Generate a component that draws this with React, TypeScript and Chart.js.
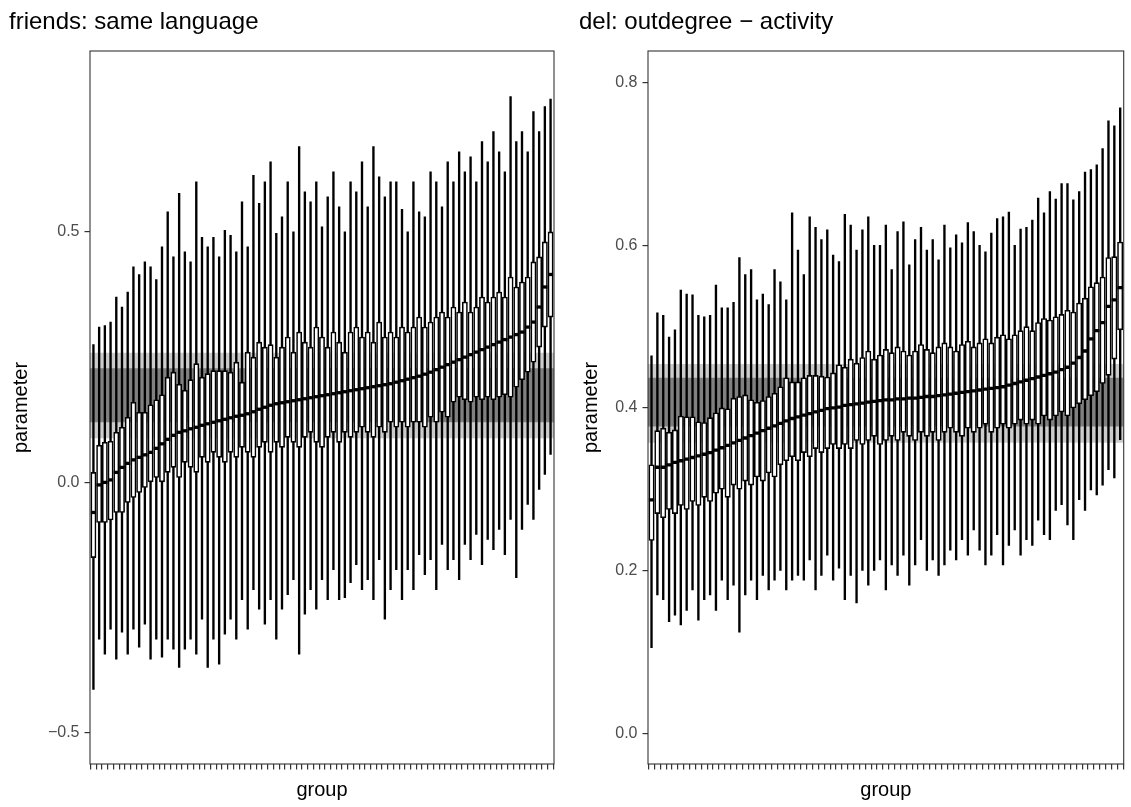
import React, { useEffect, useRef } from "react";
import { Chart, registerables } from "chart.js";

Chart.register(...registerables);

const FONT = "'Liberation Sans', Arial, Helvetica, sans-serif";

// ---------- Panel 1: friends: same language ----------
const P1_TITLE = "friends: same language";
const P1_LOW = [
  -0.413, -0.313, -0.343, -0.293, -0.353, -0.299, -0.343, -0.293, -0.329, -0.283,
  -0.353, -0.313, -0.349, -0.313, -0.333, -0.369, -0.333, -0.313, -0.343, -0.273,
  -0.369, -0.313, -0.363, -0.303, -0.273, -0.313, -0.234, -0.293, -0.214, -0.253,
  -0.283, -0.234, -0.313, -0.253, -0.224, -0.194, -0.343, -0.263, -0.214, -0.253,
  -0.194, -0.234, -0.174, -0.234, -0.23, -0.2, -0.164, -0.214, -0.194, -0.234,
  -0.154, -0.273, -0.214, -0.174, -0.234, -0.174, -0.214, -0.144, -0.184, -0.154,
  -0.214, -0.124, -0.174, -0.154, -0.194, -0.124, -0.154, -0.104, -0.164, -0.114,
  -0.134, -0.094, -0.144, -0.074, -0.19, -0.094, -0.044, -0.074, -0.014, 0.016,
  0.056,
];
const P1_Q1 = [
  -0.15, -0.08, -0.08, -0.075, -0.06, -0.06, -0.04, -0.03, -0.02, -0.01,
  0.0, 0.01, 0.0, 0.02, 0.03, 0.01, 0.04, 0.03, 0.02, 0.05,
  0.04, 0.06, 0.05, 0.04, 0.06, 0.05, 0.07, 0.06, 0.05, 0.07,
  0.08, 0.06, 0.08, 0.07, 0.09, 0.08, 0.07, 0.09, 0.1, 0.08,
  0.07, 0.09, 0.1, 0.08, 0.1, 0.09, 0.1, 0.11, 0.1, 0.09,
  0.11, 0.1, 0.12, 0.11, 0.12, 0.11, 0.12, 0.12, 0.11, 0.13,
  0.12, 0.14, 0.13, 0.16, 0.17, 0.165, 0.16, 0.17, 0.165, 0.17,
  0.165, 0.17, 0.175, 0.17, 0.19, 0.205, 0.22, 0.24, 0.27, 0.31,
  0.33,
];
const P1_MED = [
  -0.06, -0.005, 0.0, 0.005, 0.02, 0.03, 0.038, 0.045, 0.05, 0.055,
  0.06, 0.068, 0.077, 0.086, 0.094, 0.1, 0.103, 0.107, 0.11, 0.114,
  0.117, 0.12, 0.123, 0.126, 0.129, 0.132, 0.134, 0.137, 0.141, 0.146,
  0.15, 0.154, 0.157, 0.159, 0.161, 0.163, 0.165, 0.167, 0.169, 0.171,
  0.173, 0.175, 0.177, 0.179, 0.181, 0.183, 0.185, 0.187, 0.189, 0.191,
  0.193, 0.195, 0.197, 0.2, 0.203, 0.206, 0.209, 0.212, 0.216, 0.22,
  0.225, 0.23, 0.235, 0.24, 0.245, 0.25, 0.255, 0.26, 0.265, 0.27,
  0.275, 0.28, 0.285, 0.29, 0.295, 0.3, 0.31, 0.32, 0.35, 0.39,
  0.415,
];
const P1_Q3 = [
  0.02, 0.074, 0.08, 0.082, 0.1, 0.11, 0.13, 0.16, 0.14, 0.14,
  0.155, 0.165, 0.175, 0.21, 0.22, 0.196, 0.184, 0.205, 0.237, 0.21,
  0.217, 0.223, 0.223, 0.223, 0.22, 0.24, 0.2, 0.26, 0.25, 0.28,
  0.27, 0.275, 0.25, 0.27, 0.29, 0.26, 0.3, 0.28, 0.27, 0.31,
  0.29, 0.27, 0.3, 0.28, 0.26, 0.3, 0.31, 0.29, 0.3, 0.28,
  0.32, 0.29, 0.3, 0.29, 0.31, 0.3, 0.31, 0.33, 0.31, 0.32,
  0.33, 0.34, 0.33, 0.35, 0.34, 0.36, 0.34, 0.35, 0.37, 0.36,
  0.37, 0.38, 0.37, 0.41, 0.39, 0.4, 0.41, 0.44, 0.45, 0.48,
  0.5,
];
const P1_HIGH = [
  0.275, 0.31, 0.313, 0.32, 0.37, 0.35, 0.38, 0.43, 0.415, 0.44,
  0.43, 0.405, 0.47, 0.54, 0.45, 0.577, 0.46, 0.44, 0.6, 0.489,
  0.47, 0.489, 0.45, 0.503, 0.493, 0.46, 0.56, 0.47, 0.613, 0.557,
  0.6, 0.64, 0.497, 0.53, 0.6, 0.5, 0.67, 0.58, 0.56, 0.6,
  0.51, 0.57, 0.62, 0.55, 0.5, 0.6, 0.58, 0.64, 0.55, 0.67,
  0.61, 0.57, 0.6, 0.6, 0.545, 0.5, 0.6, 0.54, 0.53, 0.62,
  0.6, 0.55, 0.64, 0.6, 0.66, 0.62, 0.65, 0.6, 0.68, 0.64,
  0.7, 0.66, 0.62, 0.77, 0.68, 0.7, 0.66, 0.74, 0.7, 0.75,
  0.765,
];
const P1_BAND_OUTER = [0.088, 0.259];
const P1_BAND_INNER = [0.12, 0.228];
const P1_Y_RANGE = [-0.562, 0.861];
const P1_Y_TICKS = [-0.5, 0.0, 0.5];
const P1_Y_TICK_LABELS = ["\u22120.5", "0.0", "0.5"];

// ---------- Panel 2: del: outdegree - activity ----------
const P2_TITLE = "del: outdegree \u2212 activity";
const P2_LOW = [
  0.105, 0.17, 0.164, 0.137, 0.145, 0.133, 0.151, 0.176, 0.139, 0.164,
  0.17, 0.151, 0.188, 0.164, 0.182, 0.124, 0.17, 0.188, 0.164, 0.194,
  0.176, 0.188, 0.2, 0.176, 0.188, 0.194, 0.188, 0.213, 0.176, 0.194,
  0.219, 0.188, 0.203, 0.164, 0.194, 0.16, 0.2, 0.182, 0.2, 0.213,
  0.176, 0.207, 0.194, 0.219, 0.182, 0.207, 0.238, 0.2, 0.213, 0.194,
  0.207, 0.225, 0.213, 0.238, 0.219, 0.25, 0.225, 0.207, 0.219, 0.244,
  0.207, 0.231, 0.25, 0.219, 0.238, 0.231, 0.262, 0.244, 0.238, 0.274,
  0.281, 0.256, 0.238, 0.287, 0.274, 0.299, 0.293, 0.305, 0.324, 0.314,
  0.361,
];
const P2_Q1 = [
  0.237, 0.27, 0.265, 0.275, 0.27, 0.28, 0.275, 0.285, 0.28, 0.29,
  0.285, 0.295, 0.3, 0.29, 0.305, 0.3, 0.31, 0.305, 0.315, 0.31,
  0.32, 0.315, 0.33, 0.335, 0.34, 0.335, 0.345, 0.34, 0.35, 0.345,
  0.35, 0.355, 0.35, 0.355, 0.35, 0.36, 0.355, 0.36, 0.365, 0.355,
  0.36, 0.365, 0.36, 0.37, 0.365, 0.36, 0.37, 0.365, 0.37, 0.36,
  0.37, 0.375, 0.37, 0.365, 0.375, 0.37, 0.375, 0.38, 0.37, 0.375,
  0.38, 0.375, 0.38, 0.385, 0.38, 0.385, 0.38, 0.39, 0.385, 0.39,
  0.395, 0.39, 0.4, 0.405, 0.41, 0.415, 0.42, 0.43, 0.44, 0.46,
  0.496,
];
const P2_MED = [
  0.287, 0.327, 0.327, 0.33, 0.333, 0.335, 0.337, 0.339, 0.341, 0.343,
  0.345, 0.348, 0.351, 0.354, 0.357, 0.36, 0.363, 0.366, 0.369, 0.372,
  0.375, 0.378, 0.381, 0.384, 0.387, 0.389, 0.391, 0.393, 0.395, 0.397,
  0.399, 0.4, 0.401, 0.403, 0.404, 0.405, 0.406, 0.407, 0.408, 0.409,
  0.41, 0.41, 0.411, 0.411, 0.412, 0.412, 0.413, 0.414, 0.414, 0.415,
  0.416, 0.417, 0.418, 0.419, 0.42, 0.421, 0.422, 0.423, 0.424, 0.425,
  0.426, 0.428, 0.43, 0.432, 0.434, 0.436, 0.438, 0.44, 0.442, 0.444,
  0.447, 0.45, 0.455, 0.462, 0.47, 0.485, 0.495, 0.505, 0.525, 0.533,
  0.548,
];
const P2_Q3 = [
  0.33, 0.372, 0.375, 0.37, 0.373, 0.39, 0.389, 0.389, 0.383, 0.382,
  0.388, 0.394, 0.4, 0.399, 0.412, 0.414, 0.416, 0.41, 0.407, 0.409,
  0.414, 0.418, 0.426, 0.437, 0.432, 0.432, 0.437, 0.44, 0.44, 0.439,
  0.438, 0.443, 0.453, 0.45, 0.46, 0.455, 0.462, 0.47, 0.46, 0.465,
  0.472, 0.468, 0.475, 0.47, 0.465, 0.47, 0.478, 0.472, 0.468, 0.475,
  0.48, 0.475, 0.47, 0.478, 0.482, 0.475, 0.48, 0.485, 0.48, 0.487,
  0.49, 0.485, 0.49, 0.495, 0.5, 0.495, 0.505, 0.51, 0.508, 0.512,
  0.515, 0.52, 0.518, 0.529, 0.535, 0.549, 0.554, 0.561, 0.585, 0.586,
  0.604,
];
const P2_HIGH = [
  0.464, 0.517, 0.514, 0.487, 0.496, 0.545, 0.54, 0.539, 0.514, 0.512,
  0.514, 0.551, 0.523, 0.523, 0.53, 0.585, 0.564, 0.57, 0.533, 0.54,
  0.527, 0.57, 0.555, 0.533, 0.64, 0.594, 0.564, 0.635, 0.622, 0.607,
  0.619, 0.588, 0.58, 0.638, 0.625, 0.594, 0.619, 0.635, 0.6, 0.6,
  0.625, 0.57, 0.617, 0.629, 0.576, 0.607, 0.622, 0.594, 0.607, 0.582,
  0.625, 0.597, 0.613, 0.603, 0.628, 0.617, 0.6, 0.592, 0.615, 0.633,
  0.635, 0.641, 0.6, 0.62, 0.622, 0.631, 0.658, 0.64, 0.666, 0.657,
  0.676, 0.676, 0.656, 0.666, 0.69, 0.693, 0.699, 0.719, 0.753, 0.747,
  0.769,
];
const P2_BAND_OUTER = [0.357, 0.454];
const P2_BAND_INNER = [0.377, 0.437];
const P2_Y_RANGE = [-0.038, 0.839];
const P2_Y_TICKS = [0.0, 0.2, 0.4, 0.6, 0.8];
const P2_Y_TICK_LABELS = ["0.0", "0.2", "0.4", "0.6", "0.8"];

const X_TITLE = "group";
const Y_TITLE = "parameter";

type Spec = {
  title: string;
  low: number[];
  q1: number[];
  med: number[];
  q3: number[];
  high: number[];
  bandOuter: number[];
  bandInner: number[];
  yRange: number[];
  yTicks: number[];
  yTickLabels: string[];
  canvasWidth: number;
  leftPad: number;
  yAxisWidth: number;
  rightPad: number;
  boxWidth: number;
};

const SPECS: Spec[] = [
  {
    title: P1_TITLE, low: P1_LOW, q1: P1_Q1, med: P1_MED, q3: P1_Q3, high: P1_HIGH,
    bandOuter: P1_BAND_OUTER, bandInner: P1_BAND_INNER, yRange: P1_Y_RANGE,
    yTicks: P1_Y_TICKS, yTickLabels: P1_Y_TICK_LABELS,
    canvasWidth: 565, leftPad: 9, yAxisWidth: 81, rightPad: 11, boxWidth: 5.2,
  },
  {
    title: P2_TITLE, low: P2_LOW, q1: P2_Q1, med: P2_MED, q3: P2_Q3, high: P2_HIGH,
    bandOuter: P2_BAND_OUTER, bandInner: P2_BAND_INNER, yRange: P2_Y_RANGE,
    yTicks: P2_Y_TICKS, yTickLabels: P2_Y_TICK_LABELS,
    canvasWidth: 561, leftPad: 9, yAxisWidth: 69, rightPad: 6, boxWidth: 5.4,
  },
];

const panelBorder = {
  id: "panelBorder",
  afterDatasetsDraw(chart: any) {
    const { ctx, chartArea } = chart;
    ctx.save();
    ctx.strokeStyle = "#333333";
    ctx.lineWidth = 1.1;
    ctx.strokeRect(chartArea.left, chartArea.top, chartArea.right - chartArea.left, chartArea.bottom - chartArea.top);
    ctx.restore();
  },
};

function makeConfig(p: Spec): any {
  const n = p.med.length;
  const idx = p.med.map((_, i) => i);
  const xMin = -0.6;
  const xMax = n - 1 + 0.6;
  const band = (y: number, color: string, fill: any, order: number) => ({
    type: "line",
    data: [{ x: xMin, y }, { x: xMax, y }],
    borderWidth: 0,
    borderColor: "rgba(0,0,0,0)",
    pointRadius: 0,
    fill,
    backgroundColor: color,
    order,
  });
  const tickGrid = {
    display: true,
    drawOnChartArea: false,
    drawTicks: true,
    tickLength: 5.5,
    color: "#333333",
    lineWidth: 1.2,
  };
  return {
    type: "bar",
    data: {
      datasets: [
        band(p.bandOuter[1], "#cccccc", "+1", 10),
        band(p.bandOuter[0], "#cccccc", false, 10),
        band(p.bandInner[1], "#808080", "+1", 9),
        band(p.bandInner[0], "#808080", false, 9),
        {
          type: "bar",
          data: idx.map((i) => ({ x: i, y: [p.low[i], p.high[i]] })),
          backgroundColor: "#000000",
          borderWidth: 0,
          barThickness: 1.7,
          grouped: false,
          order: 3,
        },
        {
          type: "bar",
          data: idx.map((i) => ({ x: i, y: [p.q1[i], p.q3[i]] })),
          backgroundColor: "#ffffff",
          borderColor: "#000000",
          borderWidth: 1.6,
          borderSkipped: false,
          barThickness: p.boxWidth,
          grouped: false,
          order: 2,
        },
        {
          type: "line",
          data: idx.map((i) => ({ x: i, y: p.med[i] })),
          showLine: false,
          pointStyle: "line",
          pointRadius: p.boxWidth / 2,
          pointBorderWidth: 3.3,
          pointBorderColor: "#000000",
          pointBackgroundColor: "#000000",
          order: 1,
        },
      ],
    },
    options: {
      responsive: false,
      animation: false,
      events: [],
      layout: { padding: { left: p.leftPad, right: p.rightPad, top: 0, bottom: 0 } },
      plugins: {
        legend: { display: false },
        tooltip: { enabled: false },
        title: {
          display: true,
          text: p.title,
          align: "start",
          color: "#000000",
          font: { family: FONT, size: 24, weight: "normal" },
          padding: { top: 7.6, bottom: 14.6 },
        },
      },
      scales: {
        x: {
          type: "linear",
          min: xMin,
          max: xMax,
          offset: false,
          afterBuildTicks: (scale: any) => {
            scale.ticks = idx.map((v) => ({ value: v }));
          },
          afterFit: (scale: any) => {
            scale.height = 43;
          },
          ticks: { callback: () => "", autoSkip: false, maxRotation: 0, padding: 0 },
          grid: tickGrid,
          border: { display: false },
          title: {
            display: true,
            text: X_TITLE,
            color: "#000000",
            font: { family: FONT, size: 20 },
            padding: { top: 0, bottom: 5 },
          },
        },
        y: {
          type: "linear",
          min: p.yRange[0],
          max: p.yRange[1],
          afterBuildTicks: (scale: any) => {
            scale.ticks = p.yTicks.map((v) => ({ value: v }));
          },
          afterFit: (scale: any) => {
            scale.width = p.yAxisWidth;
          },
          ticks: {
            callback: (_v: any, i: number) => p.yTickLabels[i],
            color: "#4d4d4d",
            font: { family: FONT, size: 16 },
            padding: 5,
            autoSkip: false,
          },
          grid: tickGrid,
          border: { display: false },
          title: {
            display: true,
            text: Y_TITLE,
            color: "#000000",
            font: { family: FONT, size: 20 },
            padding: { top: 0, bottom: 0 },
          },
        },
      },
    },
    plugins: [panelBorder],
  };
}

function Panel({ spec, left }: { spec: Spec; left: number }) {
  const ref = useRef<HTMLCanvasElement>(null);
  useEffect(() => {
    const chart = new Chart(ref.current as HTMLCanvasElement, makeConfig(spec));
    return () => chart.destroy();
  }, [spec]);
  return (
    <div style={{ position: "absolute", left, top: 0, width: spec.canvasWidth, height: 807 }}>
      <canvas
        ref={ref}
        width={spec.canvasWidth}
        height={807}
        style={{ display: "block", width: spec.canvasWidth, height: 807 }}
      />
    </div>
  );
}

export default function App() {
  return (
    <div
      style={{
        position: "fixed",
        left: 0,
        top: 0,
        width: 1131,
        height: 807,
        background: "#ffffff",
        overflow: "hidden",
        fontFamily: FONT,
      }}
    >
      <Panel spec={SPECS[0]} left={0} />
      <Panel spec={SPECS[1]} left={570} />
    </div>
  );
}
